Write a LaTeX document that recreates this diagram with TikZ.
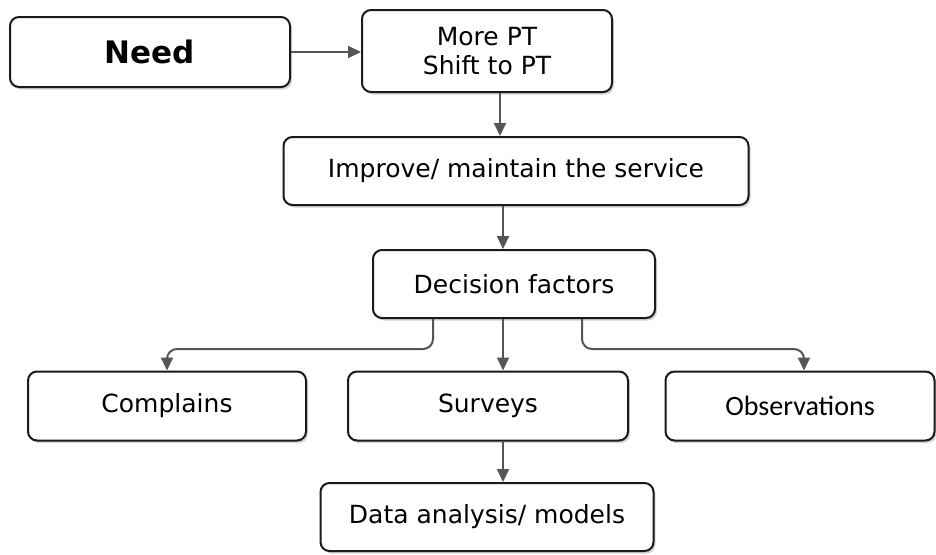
\documentclass[tikz,border=0pt]{standalone}
\usepackage{fontspec}
\setmainfont{DejaVu Sans}
\newfontfamily\obsfont{Carlito}
\usetikzlibrary{arrows.meta,shadows}
\definecolor{arrowgray}{HTML}{555555}
\definecolor{boxline}{HTML}{1A1A1A}
\tikzset{
  box/.style={draw=boxline, line width=2pt, rounded corners=9pt, fill=white,
    inner sep=0pt, align=center, font=\fontsize{25}{29}\selectfont,
    drop shadow={shadow xshift=2pt, shadow yshift=-2.5pt, opacity=0.35, fill=gray}},
  conn/.style={draw=arrowgray, line width=2pt, rounded corners=10pt,
    -{Triangle[length=13pt,width=12pt]}},
}
\begin{document}
\begin{tikzpicture}[x=1pt,y=-1pt]
\useasboundingbox (0,0) rectangle (936,554);
\node[box, minimum width=280pt, minimum height=70pt, font=\fontsize{31}{34}\selectfont\bfseries] (need) at (150,52) {Need};
\node[box, minimum width=250pt, minimum height=82pt] (more) at (487,51) {More PT\\Shift to PT};
\node[box, minimum width=465pt, minimum height=68pt] (impr) at (516,171) {Improve/ maintain the service};
\node[box, minimum width=282pt, minimum height=68pt] (dec) at (514,284) {Decision factors};
\node[box, minimum width=278pt, minimum height=69pt] (comp) at (167,406) {Complains};
\node[box, minimum width=280pt, minimum height=69pt] (surv) at (488,406) {Surveys};
\node[box, minimum width=269pt, minimum height=69pt, font=\fontsize{28}{32}\selectfont\obsfont] (obs) at (800,406) {Observations};
\node[box, minimum width=333pt, minimum height=68pt] (data) at (487,517) {Data analysis/ models};
\coordinate (xa) at (500,0);
\coordinate (xb) at (503,0);
\coordinate (xl) at (433,0);
\coordinate (xr) at (582,0);
\coordinate (xc) at (167,0);
\coordinate (xo) at (804,0);
\coordinate (yh) at (0,349);
\draw[conn] (need.east) -- (more.west |- need.east);
\draw[conn] (more.south -| xa) -- (impr.north -| xa);
\draw[conn] (impr.south -| xb) -- (dec.north -| xb);
\draw[conn] (dec.south -| xb) -- (surv.north -| xb);
\draw[conn] (dec.south -| xl) -- (xl |- yh) -- (xc |- yh) -- (comp.north -| xc);
\draw[conn] (dec.south -| xr) -- (xr |- yh) -- (xo |- yh) -- (obs.north -| xo);
\draw[conn] (surv.south -| xb) -- (data.north -| xb);
\end{tikzpicture}
\end{document}
